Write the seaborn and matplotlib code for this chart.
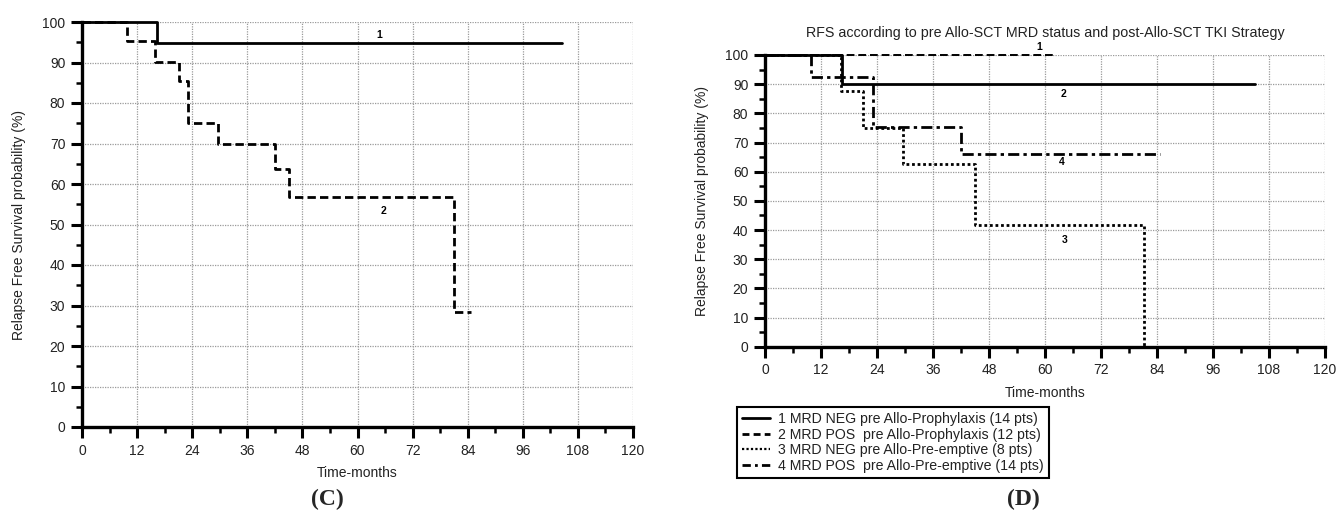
import matplotlib
matplotlib.use("Agg")
import matplotlib.pyplot as plt
from matplotlib.ticker import MultipleLocator
from matplotlib.lines import Line2D
import seaborn as sns
import pandas as pd

# ---- data ----
# Panel C
c1_time = [0, 16.3, 104.6]
c1_surv = [100, 94.7, 94.7]
c2_time = [0, 9.8, 16.0, 21.2, 23.0, 29.6, 42.0, 45.1, 81.1, 84.7]
c2_surv = [100, 95.2, 90.1, 85.5, 75.0, 70.0, 63.8, 56.8, 28.4, 28.4]
c_labels = ["1", "2"]
c_label_pos_x = [64.8, 65.7]
c_label_pos_y = [96.9, 53.3]

# Panel D
d_dash_time = [0, 61.9]
d_dash_surv = [100, 100]
d_solid_time = [0, 16.4, 105.0]
d_solid_surv = [100, 90.0, 90.0]
d_dot_time = [0, 16.3, 20.9, 29.5, 45.0, 81.2]
d_dot_surv = [100, 87.5, 75.0, 62.5, 41.7, 0]
d_dashdot_time = [0, 9.85, 23.1, 42.1, 84.6]
d_dashdot_surv = [100, 92.3, 75.4, 66.2, 66.2]
d_labels = ["1", "2", "3", "4"]
d_label_pos_x = [58.7, 63.9, 64.3, 63.6]
d_label_pos_y = [102.8, 86.5, 36.5, 63.2]

legend_labels = [
    "1 MRD NEG pre Allo-Prophylaxis (14 pts)",
    "2 MRD POS  pre Allo-Prophylaxis (12 pts)",
    "3 MRD NEG pre Allo-Pre-emptive (8 pts)",
    "4 MRD POS  pre Allo-Pre-emptive (14 pts)",
]
x_ticks = list(range(0, 121, 12))
y_ticks = list(range(0, 101, 10))

sns.set_style("white")
plt.rcParams["font.family"] = ["Liberation Sans", "DejaVu Sans"]

fig = plt.figure(figsize=(13.36, 5.15), dpi=100)
axC = fig.add_axes([82 / 1336, (515 - 427) / 515, 551 / 1336, 405 / 515])
axD = fig.add_axes([765 / 1336, (515 - 346.7) / 515, 560 / 1336, 291.7 / 515])

TXT = "#222222"
FS = 10


def style_axes(ax):
    ax.set_xlim(0, 120)
    ax.set_ylim(0, 100)
    ax.set_xticks(x_ticks)
    ax.set_yticks(y_ticks)
    ax.xaxis.set_minor_locator(MultipleLocator(6))
    ax.yaxis.set_minor_locator(MultipleLocator(5))
    for s in ["top", "right"]:
        ax.spines[s].set_visible(False)
    for s in ["left", "bottom"]:
        ax.spines[s].set_linewidth(2.4)
        ax.spines[s].set_color("black")
    ax.tick_params(which="major", direction="out", length=8, width=2.2,
                   labelsize=FS, labelcolor=TXT, color="black", pad=4)
    ax.tick_params(which="minor", direction="out", length=4, width=1.8, color="black")
    ax.tick_params(axis="both", which="both", bottom=True, left=True)
    ax.grid(True, which="major", color="#9a9a9a", linestyle=(0, (1, 1)), linewidth=0.9)
    ax.set_axisbelow(True)
    ax.set_xlabel("Time-months", fontsize=FS, color=TXT, labelpad=6)
    ax.set_ylabel("Relapse Free Survival probability (%)", fontsize=FS, color=TXT, labelpad=12)


def km(ax, t, s, **kw):
    df = pd.DataFrame({"t": t, "s": s})
    sns.lineplot(data=df, x="t", y="s", ax=ax, drawstyle="steps-post",
                 estimator=None, sort=False, color="black", clip_on=False, **kw)


# Panel C
km(axC, c1_time, c1_surv, linewidth=2.0, linestyle="-")
km(axC, c2_time, c2_surv, linewidth=2.0, linestyle=(0, (3, 1.5)))
for lab, x, y in zip(c_labels, c_label_pos_x, c_label_pos_y):
    axC.text(x, y, lab, fontsize=7.5, fontweight="bold", ha="center", va="center", color="black")
style_axes(axC)

# Panel D
km(axD, d_dash_time, d_dash_surv, linewidth=1.4, linestyle=(0, (4, 2)))
km(axD, d_solid_time, d_solid_surv, linewidth=2.0, linestyle="-")
km(axD, d_dot_time, d_dot_surv, linewidth=2.0, linestyle=(0, (1, 1)))
km(axD, d_dashdot_time, d_dashdot_surv, linewidth=2.0, linestyle=(0, (4, 1.5, 1.2, 1.5)))
for lab, x, y in zip(d_labels, d_label_pos_x, d_label_pos_y):
    axD.text(x, y, lab, fontsize=7.5, fontweight="bold", ha="center", va="center",
             color="black", clip_on=False)
style_axes(axD)
axD.set_title("RFS according to pre Allo-SCT MRD status and post-Allo-SCT TKI Strategy",
              fontsize=10.3, color=TXT, pad=13)

handles = [
    Line2D([], [], color="black", linewidth=2.0, linestyle="-"),
    Line2D([], [], color="black", linewidth=2.0, linestyle=(0, (2.5, 1.5))),
    Line2D([], [], color="black", linewidth=1.6, linestyle=(0, (1, 1))),
    Line2D([], [], color="black", linewidth=2.0, linestyle=(0, (3, 1.5, 1, 1.5))),
]
leg = fig.legend(handles, legend_labels, loc="upper left",
                 bbox_to_anchor=(737 / 1336, 1 - 407 / 515),
                 fontsize=10.2, frameon=True, fancybox=False, framealpha=1,
                 edgecolor="black", handlelength=2.0, handletextpad=0.55,
                 labelspacing=0.12, borderpad=0.35, borderaxespad=0)
leg.get_frame().set_linewidth(1.5)
for t in leg.get_texts():
    t.set_color(TXT)

fig.text(327 / 1336, 1 - 499 / 515, "(C)", fontsize=17, fontweight="bold",
         family=["Liberation Serif", "DejaVu Serif"], ha="center", va="center")
fig.text(1023 / 1336, 1 - 499 / 515, "(D)", fontsize=17, fontweight="bold",
         family=["Liberation Serif", "DejaVu Serif"], ha="center", va="center")

fig.savefig("out.png", dpi=100)
